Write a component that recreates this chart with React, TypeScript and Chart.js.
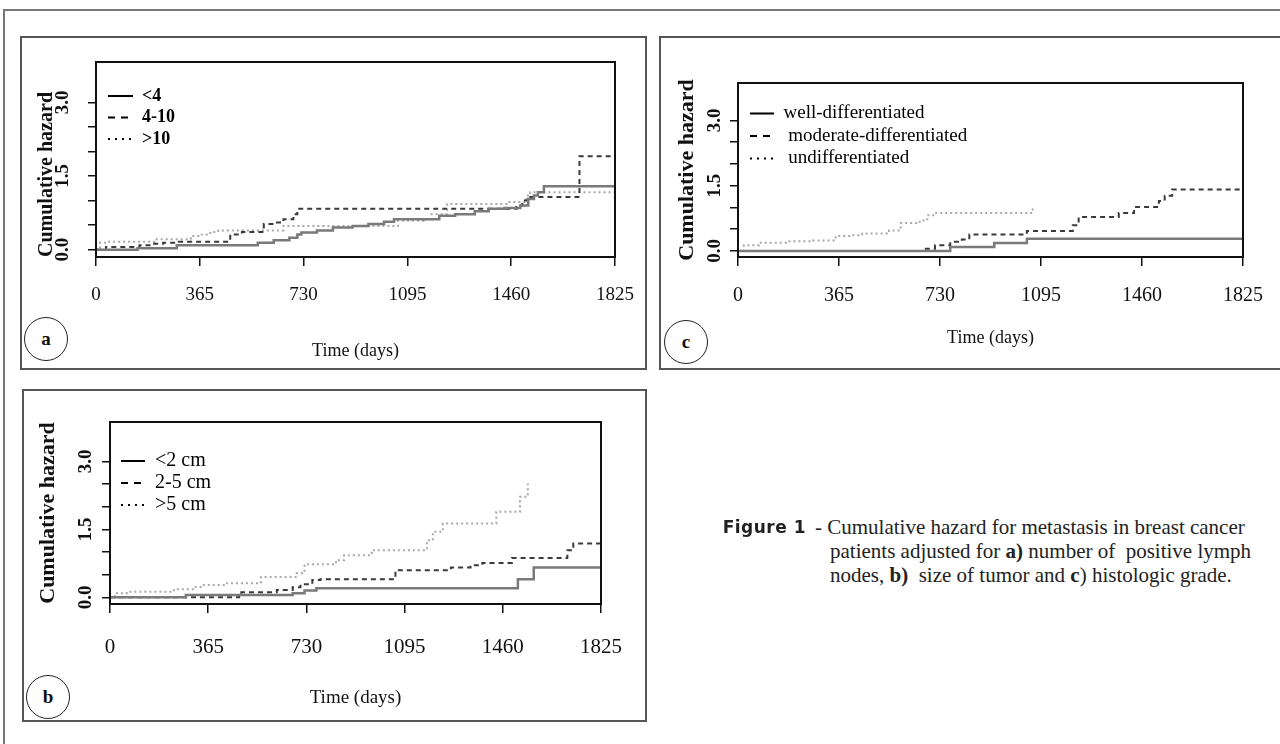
import React, { useEffect, useRef } from "react";
import { Chart, registerables } from "chart.js";

Chart.register(...registerables);

const SERIF = "'Liberation Serif', 'Times New Roman', Times, serif";

// ---- axes ----
const xTickValues = [0, 365, 730, 1095, 1460, 1825];
const yTickValues = [0, 0.5, 1, 1.5, 2, 2.5, 3];
const yLabelValues = [0, 1.5, 3];
const xTitle = "Time (days)";
const yTitle = "Cumulative hazard";

// ---- panel a: number of positive lymph nodes ----
const aLabels = ["<4", "4-10", ">10"];
const aLt4Days = [0, 146, 284, 569, 625, 680, 708, 722, 777, 833, 902, 958, 1013, 1048, 1207, 1263, 1332, 1381, 1436, 1492, 1520, 1540, 1554, 1575, 1825];
const aLt4Haz = [0, 0.03, 0.09, 0.14, 0.19, 0.24, 0.31, 0.35, 0.39, 0.45, 0.48, 0.52, 0.57, 0.62, 0.69, 0.72, 0.78, 0.83, 0.85, 0.9, 1.03, 1.1, 1.17, 1.29, 1.29];
const a4to10Days = [0, 35, 153, 194, 236, 291, 472, 513, 590, 625, 659, 694, 708, 1478, 1499, 1527, 1700, 1825];
const a4to10Haz = [0, 0.055, 0.09, 0.12, 0.14, 0.16, 0.31, 0.36, 0.52, 0.55, 0.62, 0.72, 0.83, 0.9, 1.0, 1.07, 1.9, 1.9];
const aGt10Days = [0, 14, 42, 208, 333, 368, 402, 430, 659, 1062, 1152, 1180, 1235, 1443, 1513, 1527, 1825];
const aGt10Haz = [0, 0.14, 0.16, 0.21, 0.28, 0.31, 0.36, 0.39, 0.48, 0.59, 0.62, 0.72, 0.93, 0.97, 1.1, 1.17, 1.17];

// ---- panel b: size of tumor ----
const bLabels = ["<2 cm", "2-5 cm", ">5 cm"];
const bLt2Days = [0, 282, 679, 723, 767, 1516, 1575, 1825];
const bLt2Haz = [0, 0.05, 0.09, 0.15, 0.2, 0.4, 0.66, 0.66];
const b2to5Days = [0, 480, 488, 620, 679, 708, 752, 782, 1061, 1267, 1340, 1384, 1494, 1700, 1722, 1825];
const b2to5Haz = [0, 0.07, 0.11, 0.16, 0.22, 0.29, 0.38, 0.4, 0.6, 0.66, 0.71, 0.76, 0.87, 1.04, 1.19, 1.19];
const bGt5Days = [0, 18, 62, 238, 312, 341, 429, 561, 694, 723, 840, 870, 973, 1178, 1200, 1237, 1436, 1524, 1553];
const bGt5Haz = [0, 0.09, 0.125, 0.18, 0.23, 0.27, 0.31, 0.45, 0.53, 0.73, 0.82, 0.93, 1.04, 1.26, 1.45, 1.63, 1.89, 2.22, 2.51];

// ---- panel c: histologic grade ----
const cLabels = ["well-differentiated", " moderate-differentiated", " undifferentiated"];
const cWellDays = [0, 767, 926, 1044, 1825];
const cWellHaz = [0, 0.09, 0.18, 0.28, 0.28];
const cModDays = [0, 670, 712, 767, 809, 836, 1044, 1210, 1231, 1376, 1431, 1521, 1542, 1569, 1825];
const cModHaz = [0, 0.05, 0.13, 0.21, 0.26, 0.38, 0.46, 0.59, 0.78, 0.87, 1.01, 1.15, 1.27, 1.41, 1.41];
const cUndDays = [0, 21, 76, 173, 270, 353, 408, 449, 546, 588, 657, 684, 712, 1065];
const cUndHaz = [0, 0.13, 0.19, 0.22, 0.24, 0.34, 0.36, 0.4, 0.47, 0.64, 0.7, 0.82, 0.87, 1.03];

// ---- line styles (solid, dashed, dotted) ----
const lineColors = ["#7a7a7a", "#3a3a3a", "#a8a8a8"];
const lineWidths = [2.5, 2, 2];
const lineDashes = [[], [5, 4], [2, 3]];
const legendDashes = [[], [7, 6], [2, 5]];

type PanelCfg = {
  left: number; top: number; w: number; h: number;
  padTop: number; padRight: number; yWidth: number; xHeight: number;
  yMin: number; yMax: number;
  xTickSize: number; xTickLH: number;
  xTitleSize: number; xTitlePad: number;
  yTitleSize: number; yTitleAlign: "start" | "center" | "end"; yTitlePad: number;
  yLabelX: number; yLabelSize: number;
  legendSize: number; legendBold: boolean; legendDx: number; legendDy: number; legendGap: number; legendLineW: number;
  labels: string[]; days: number[][]; haz: number[][];
};

const panelA: PanelCfg = {
  left: 20, top: 36, w: 627, h: 334,
  padTop: 26, padRight: 32, yWidth: 76, xHeight: 113,
  yMin: -0.15, yMax: 3.82,
  xTickSize: 19, xTickLH: 51,
  xTitleSize: 18, xTitlePad: 8,
  yTitleSize: 20, yTitleAlign: "start", yTitlePad: 15,
  yLabelX: 43, yLabelSize: 19,
  legendSize: 18, legendBold: true, legendDx: 12, legendDy: 25, legendGap: 3.5, legendLineW: 25,
  labels: aLabels, days: [aLt4Days, a4to10Days, aGt10Days], haz: [aLt4Haz, a4to10Haz, aGt10Haz],
};

const panelB: PanelCfg = {
  left: 22, top: 389, w: 625, h: 333,
  padTop: 33, padRight: 46, yWidth: 88, xHeight: 118,
  yMin: -0.147, yMax: 3.87,
  xTickSize: 21, xTickLH: 61,
  xTitleSize: 19, xTitlePad: 13,
  yTitleSize: 22, yTitleAlign: "center", yTitlePad: 13,
  yLabelX: 64, yLabelSize: 19,
  legendSize: 20, legendBold: false, legendDx: 11, legendDy: 29, legendGap: 2, legendLineW: 24,
  labels: bLabels, days: [bLt2Days, b2to5Days, bGt5Days], haz: [bLt2Haz, b2to5Haz, bGt5Haz],
};

const panelC: PanelCfg = {
  left: 659, top: 36, w: 621, h: 334,
  padTop: 47, padRight: 37, yWidth: 79, xHeight: 113,
  yMin: -0.14, yMax: 3.86,
  xTickSize: 20, xTickLH: 52,
  xTitleSize: 18, xTitlePad: 21,
  yTitleSize: 22, yTitleAlign: "center", yTitlePad: 15,
  yLabelX: 56, yLabelSize: 19,
  legendSize: 19, legendBold: false, legendDx: 12, legendDy: 21, legendGap: 3.5, legendLineW: 24,
  labels: cLabels, days: [cWellDays, cModDays, cUndDays], haz: [cWellHaz, cModHaz, cUndHaz],
};

function Panel({ cfg }: { cfg: PanelCfg }) {
  const ref = useRef<HTMLCanvasElement>(null);
  useEffect(() => {
    const canvas = ref.current!;
    const decor = {
      id: "decor",
      afterLayout(chart: any) {
        const lg = chart.legend;
        const ca = chart.chartArea;
        if (lg) {
          lg.left = ca.left + cfg.legendDx - cfg.legendGap;
          lg.top = ca.top + cfg.legendDy - cfg.legendGap;
        }
      },
      afterDatasetsDraw(chart: any) {
        const { ctx, chartArea: ca, scales } = chart;
        ctx.save();
        ctx.strokeStyle = "#111";
        ctx.lineWidth = 2;
        ctx.strokeRect(ca.left, ca.top, ca.right - ca.left, ca.bottom - ca.top);
        ctx.fillStyle = "#111";
        ctx.font = `bold ${cfg.yLabelSize}px ${SERIF}`;
        ctx.textAlign = "center";
        ctx.textBaseline = "middle";
        for (const v of yLabelValues) {
          const py = scales.y.getPixelForValue(v);
          ctx.save();
          ctx.translate(cfg.yLabelX, py);
          ctx.rotate(-Math.PI / 2);
          ctx.fillText(v.toFixed(1), 0, 0);
          ctx.restore();
        }
        ctx.restore();
      },
    };
    const chart = new Chart(canvas, {
      type: "line",
      data: {
        datasets: cfg.labels.map((label, i) => ({
          label,
          data: cfg.days[i].map((d, j) => ({ x: d, y: cfg.haz[i][j] })),
          stepped: true,
          borderColor: lineColors[i],
          borderWidth: lineWidths[i],
          borderDash: lineDashes[i],
          pointRadius: 0,
          pointHoverRadius: 0,
          fill: false,
        })),
      },
      options: {
        responsive: false,
        animation: false,
        devicePixelRatio: 1,
        events: [],
        layout: { padding: { top: cfg.padTop, right: cfg.padRight, left: 0, bottom: 0 } },
        plugins: {
          tooltip: { enabled: false },
          legend: {
            display: true,
            position: "chartArea",
            align: "start",
            labels: {
              usePointStyle: true,
              pointStyleWidth: cfg.legendLineW,
              padding: cfg.legendGap,
              color: "#000",
              font: { family: SERIF, size: cfg.legendSize, weight: cfg.legendBold ? "bold" : "normal" },
              generateLabels: (ch: any) =>
                ch.data.datasets.map((ds: any, i: number) => ({
                  text: ds.label,
                  fillStyle: "#000",
                  strokeStyle: "#000",
                  lineWidth: 2,
                  lineDash: legendDashes[i],
                  lineCap: "butt",
                  pointStyle: "line",
                  hidden: false,
                  datasetIndex: i,
                })),
            },
          },
        },
        scales: {
          x: {
            type: "linear",
            min: 0,
            max: 1825,
            afterBuildTicks: (s: any) => {
              s.ticks = xTickValues.map((v) => ({ value: v }));
            },
            afterFit: (s: any) => {
              s.height = cfg.xHeight;
            },
            grid: { drawOnChartArea: false, drawTicks: true, tickLength: 9, color: "#111", lineWidth: 1.5 },
            border: { display: true, color: "#111", width: 2 },
            ticks: {
              autoSkip: false,
              maxRotation: 0,
              minRotation: 0,
              padding: 4,
              color: "#111",
              font: { family: SERIF, size: cfg.xTickSize, lineHeight: `${cfg.xTickLH}px` },
              callback: (v: any) => String(v),
            },
            title: {
              display: true,
              text: xTitle,
              color: "#111",
              font: { family: SERIF, size: cfg.xTitleSize },
              padding: { top: 0, bottom: cfg.xTitlePad },
            },
          },
          y: {
            type: "linear",
            min: cfg.yMin,
            max: cfg.yMax,
            afterBuildTicks: (s: any) => {
              s.ticks = yTickValues.map((v) => ({ value: v }));
            },
            afterFit: (s: any) => {
              s.width = cfg.yWidth;
            },
            grid: { drawOnChartArea: false, drawTicks: true, tickLength: 8, color: "#111", lineWidth: 1.5 },
            border: { display: true, color: "#111", width: 2 },
            ticks: { display: false },
            title: {
              display: true,
              text: yTitle,
              align: cfg.yTitleAlign,
              color: "#111",
              font: { family: SERIF, size: cfg.yTitleSize, weight: "bold" },
              padding: { top: cfg.yTitlePad, bottom: 0 },
            },
          },
        },
      } as any,
      plugins: [decor],
    });
    return () => chart.destroy();
  }, [cfg]);
  return (
    <canvas
      ref={ref}
      width={cfg.w}
      height={cfg.h}
      style={{ position: "absolute", left: cfg.left, top: cfg.top, width: cfg.w, height: cfg.h }}
    />
  );
}

const boxStyle = (left: number, top: number, w: number, h: number): React.CSSProperties => ({
  position: "absolute",
  left,
  top,
  width: w,
  height: h,
  boxSizing: "border-box",
  border: "2px solid #555",
});

const circleStyle = (left: number, top: number): React.CSSProperties => ({
  position: "absolute",
  left,
  top,
  width: 44,
  height: 44,
  boxSizing: "border-box",
  border: "1.5px solid #222",
  borderRadius: "50%",
  display: "flex",
  alignItems: "center",
  justifyContent: "center",
  font: `bold 19px ${SERIF}`,
  color: "#111",
  background: "#fff",
});

const capLine: React.CSSProperties = {
  position: "absolute",
  font: `21px ${SERIF}`,
  lineHeight: "24px",
  whiteSpace: "pre",
  color: "#222",
};

export default function App() {
  return (
    <div
      style={{
        position: "fixed",
        left: 0,
        top: 0,
        width: 1280,
        height: 744,
        background: "#fff",
        overflow: "hidden",
      }}
    >
      <div
        style={{
          position: "absolute",
          left: 3,
          top: 9,
          width: 1400,
          height: 900,
          borderLeft: "2px solid #777",
          borderTop: "2px solid #777",
        }}
      />
      <div style={boxStyle(20, 36, 627, 334)} />
      <div style={boxStyle(659, 36, 640, 334)} />
      <div style={boxStyle(22, 389, 625, 333)} />

      <Panel cfg={panelA} />
      <Panel cfg={panelC} />
      <Panel cfg={panelB} />

      <div style={circleStyle(24, 317)}>a</div>
      <div style={circleStyle(664, 320)}>c</div>
      <div style={circleStyle(26, 675)}>b</div>

      <div
        style={{
          position: "absolute",
          left: 0,
          width: 806,
          top: 515,
          textAlign: "right",
          font: "bold 17px 'DejaVu Sans', 'Liberation Sans', sans-serif",
          lineHeight: "24px",
          letterSpacing: 0.5,
          color: "#222",
        }}
      >
        Figure 1
      </div>
      <div style={{ ...capLine, left: 815, top: 515 }}>- Cumulative hazard for metastasis in breast cancer</div>
      <div style={{ ...capLine, left: 830, top: 539 }}>
        patients adjusted for <b>a)</b> number of  positive lymph
      </div>
      <div style={{ ...capLine, left: 830, top: 563 }}>
        nodes, <b>b)</b>  size of tumor and <b>c</b>) histologic grade.
      </div>
    </div>
  );
}
